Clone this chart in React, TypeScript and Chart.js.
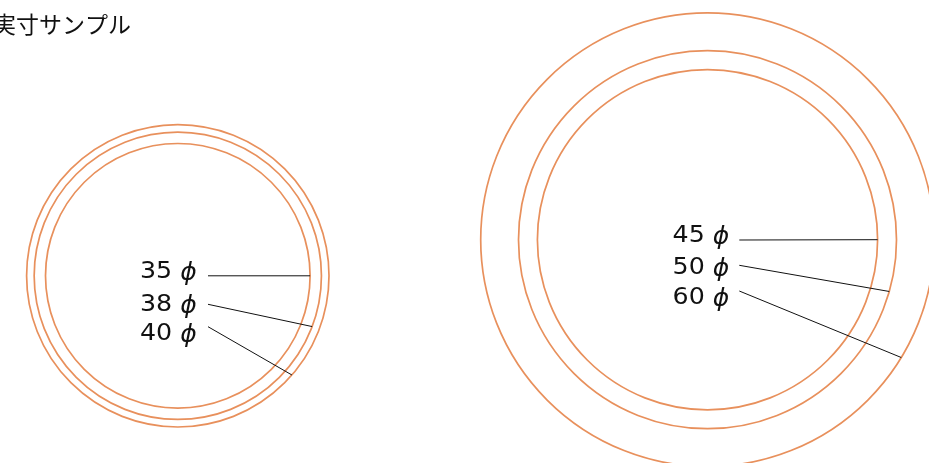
import React, { useEffect, useRef } from "react";
import { Chart, registerables } from "chart.js";

Chart.register(...registerables);

// ---- data ----
const titleText = "実寸サンプル";
const smallDiameters = [35, 38, 40];
const largeDiameters = [45, 50, 60];
const smallLabels = ["35", "38", "40"];
const largeLabels = ["45", "50", "60"];
const unitSymbol = "ϕ";
// angle (deg, clockwise from 3 o'clock) where each leader line meets its circle
const smallLeaderAngles = [0, 20.7, 41];
const largeLeaderAngles = [0, 15.9, 31.3];

// ---- layout (mm on the picture scale) ----
const PX_PER_MM = 7.56;
const W = 929;
const H = 463;
const smallCenter = { x: 177.8 / PX_PER_MM, y: 275.8 / PX_PER_MM };
const largeCenter = { x: 707.5 / PX_PER_MM, y: 239.7 / PX_PER_MM };
const RING_COLOR = "#E8905C";

const groups = [
  {
    center: smallCenter,
    diameters: smallDiameters,
    labels: smallLabels,
    angles: smallLeaderAngles,
    labelRight: 18.9,
    labelBase: [1.9, 35.2, 64.2],
    leaderX: 30.2,
    leaderY: [0, 28.5, 50.9],
  },
  {
    center: largeCenter,
    diameters: largeDiameters,
    labels: largeLabels,
    angles: largeLeaderAngles,
    labelRight: 21.8,
    labelBase: [2.6, 34.6, 64.6],
    leaderX: 31.8,
    leaderY: [0.3, 25.6, 51.3],
  },
];

const TEXT_SX = 1.1;

const annotationPlugin = {
  id: "ringAnnotations",
  afterDatasetsDraw(chart: any) {
    const { ctx, scales } = chart;
    const xs = scales.x;
    const ys = scales.y;
    const pxPerUnit = xs.getPixelForValue(1) - xs.getPixelForValue(0);
    ctx.save();
    groups.forEach((g) => {
      const cx = xs.getPixelForValue(g.center.x);
      const cy = ys.getPixelForValue(g.center.y);
      g.diameters.forEach((d, i) => {
        const r = (d / 2) * pxPerUnit;
        const a = (g.angles[i] * Math.PI) / 180;
        const ex = cx + r * Math.cos(a);
        const ey = cy + r * Math.sin(a);
        // leader line
        ctx.beginPath();
        ctx.strokeStyle = "#111";
        ctx.lineWidth = 1;
        ctx.moveTo(cx + g.leaderX, cy + g.leaderY[i]);
        ctx.lineTo(ex, ey);
        ctx.stroke();
        // label
        const right = cx + g.labelRight;
        const base = cy + g.labelBase[i];
        ctx.fillStyle = "#111";
        ctx.textBaseline = "alphabetic";
        ctx.font = "italic 25px 'DejaVu Sans'";
        const wPhi = ctx.measureText(unitSymbol).width;
        ctx.textAlign = "left";
        ctx.fillText(unitSymbol, right - wPhi, base + 2);
        ctx.font = "23px 'DejaVu Sans'";
        ctx.textAlign = "right";
        const numRight = right - wPhi - 8;
        ctx.save();
        ctx.translate(numRight, base);
        ctx.scale(TEXT_SX, 1);
        ctx.fillText(g.labels[i], 0, 0);
        ctx.restore();
      });
    });
    // title
    ctx.fillStyle = "#111";
    ctx.font = "23px 'Noto Sans CJK JP'";
    ctx.textAlign = "right";
    ctx.textBaseline = "middle";
    ctx.fillText(titleText, 131, 24);
    ctx.restore();
  },
};

export default function App() {
  const canvasRef = useRef<HTMLCanvasElement | null>(null);

  useEffect(() => {
    const canvas = canvasRef.current;
    if (!canvas) return;
    const radiusFor = (diams: number[]) => (c: any) => {
      const xs = c.chart.scales.x;
      if (!xs) return 0;
      const ppu = xs.getPixelForValue(1) - xs.getPixelForValue(0);
      return (diams[c.dataIndex] / 2) * ppu;
    };
    const chart = new Chart(canvas, {
      type: "scatter",
      data: {
        datasets: [
          {
            label: "small",
            data: smallDiameters.map(() => ({ x: smallCenter.x, y: smallCenter.y })),
            pointRadius: radiusFor(smallDiameters) as any,
            pointHoverRadius: radiusFor(smallDiameters) as any,
            pointBackgroundColor: "rgba(0,0,0,0)",
            pointBorderColor: RING_COLOR,
            pointBorderWidth: 1.7,
            clip: false as any,
          },
          {
            label: "large",
            data: largeDiameters.map(() => ({ x: largeCenter.x, y: largeCenter.y })),
            pointRadius: radiusFor(largeDiameters) as any,
            pointHoverRadius: radiusFor(largeDiameters) as any,
            pointBackgroundColor: "rgba(0,0,0,0)",
            pointBorderColor: RING_COLOR,
            pointBorderWidth: 1.7,
            clip: false as any,
          },
        ],
      },
      options: {
        animation: false,
        responsive: true,
        maintainAspectRatio: false,
        layout: { padding: 0 },
        events: [],
        scales: {
          x: { type: "linear", min: 0, max: W / PX_PER_MM, display: false },
          y: { type: "linear", min: 0, max: H / PX_PER_MM, reverse: true, display: false },
        },
        plugins: {
          legend: { display: false },
          title: { display: false },
          tooltip: { enabled: false },
        },
      },
      plugins: [annotationPlugin],
    });
    return () => chart.destroy();
  }, []);

  return (
    <div style={{ position: "fixed", left: 0, top: 0, width: W, height: H, background: "#fff" }}>
      <canvas ref={canvasRef} />
    </div>
  );
}
